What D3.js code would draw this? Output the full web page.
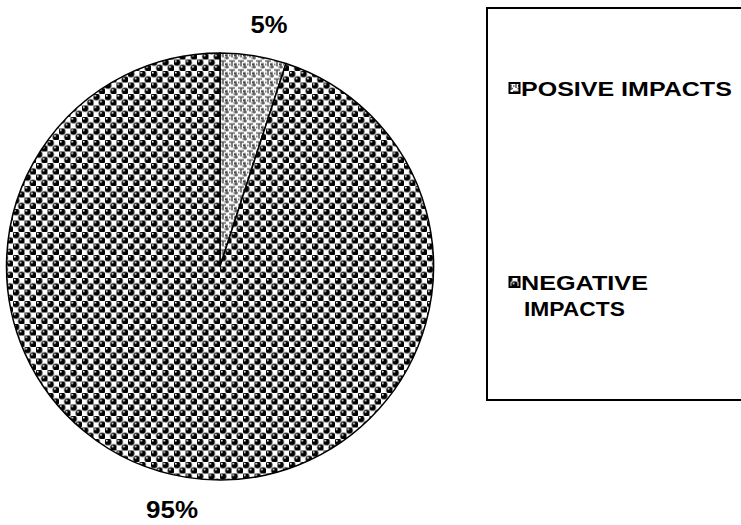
<!DOCTYPE html>
<html>
<head>
<meta charset="utf-8">
<script src="https://cdn.jsdelivr.net/npm/d3@7/dist/d3.min.js"></script>
<style>
  html, body { margin: 0; padding: 0; background: #fff; }
  svg { display: block; }
  text { font-family: "Liberation Sans", Arial, sans-serif; font-weight: bold; fill: #000; }
</style>
</head>
<body>
<svg id="chart" width="741" height="525"></svg>
<script>
// Survey result: share of respondents reporting each kind of impact
const categories = ["POSIVE IMPACTS", "NEGATIVE IMPACTS"];
const values = [5, 95];
const valueLabels = ["5%", "95%"];
const legendLines = [["POSIVE IMPACTS"], ["NEGATIVE", "IMPACTS"]];
const patternIds = ["weave", "spheres"];

const svg = d3.select("#chart");
const defs = svg.append("defs");

// Sphere pattern: dark balls with a small highlight, on a checkerboard lattice
const T = 11.5;
const sp = defs.append("pattern")
  .attr("id", "spheres")
  .attr("patternUnits", "userSpaceOnUse")
  .attr("width", T).attr("height", T);
sp.append("rect").attr("width", T).attr("height", T).attr("fill", "#fff");
[[T / 4, T / 4], [3 * T / 4, 3 * T / 4], [T + T / 4, 3 * T / 4 - T], [-T / 4, T / 4 + T]].forEach(([x, y]) => {
  sp.append("circle").attr("cx", x).attr("cy", y).attr("r", 3.7).attr("fill", "#777");
  sp.append("circle").attr("cx", x).attr("cy", y).attr("r", 3.2).attr("fill", "#000");
  sp.append("circle").attr("cx", x - 1.1).attr("cy", y - 1.2).attr("r", 0.9).attr("fill", "#fff");
});

// Weave pattern: grey maze-like strokes on white
const wv = defs.append("pattern")
  .attr("id", "weave")
  .attr("patternUnits", "userSpaceOnUse")
  .attr("width", 9).attr("height", 9);
wv.append("rect").attr("width", 9).attr("height", 9).attr("fill", "#fff");
wv.append("path")
  .attr("d", "M0,1.5H6M3,1.5V7M7,3.5V9M4.5,7.5H9M0,5H1.5")
  .attr("stroke", "#555").attr("stroke-width", 1.5).attr("fill", "none");
wv.append("rect").attr("x", 5).attr("y", 4).attr("width", 1.6).attr("height", 1.6).attr("fill", "#111");

// Pie
const cx = 220, cy = 266.5, radius = 213.5;
const pie = d3.pie().sort(null).value(d => d)(values);
const arc = d3.arc().innerRadius(0).outerRadius(radius);

const g = svg.append("g").attr("transform", `translate(${cx},${cy})`);
g.selectAll("path.slice")
  .data(pie)
  .join("path")
  .attr("class", "slice")
  .attr("d", arc)
  .attr("fill", (d, i) => `url(#${patternIds[i]})`)
  .attr("stroke", "#000")
  .attr("stroke-width", 1.5)
  .attr("stroke-linejoin", "round");

// Widen a text element horizontally so it spans the given width
function widen(sel, x, y, width, anchor) {
  sel.attr("x", 0).attr("y", 0).attr("text-anchor", anchor);
  const w = sel.node().getComputedTextLength();
  const s = width / w;
  sel.attr("transform", `translate(${x},${y}) scale(${s},1)`);
}

// Value labels outside the pie
const labelPos = [[269, 33], [172, 518]];
const labelWidths = [37, 52];
svg.selectAll("text.value")
  .data(valueLabels)
  .join("text")
  .attr("class", "value")
  .attr("font-size", 24)
  .text(d => d)
  .each(function (d, i) {
    widen(d3.select(this), labelPos[i][0], labelPos[i][1], labelWidths[i], "middle");
  });

// Legend
svg.append("rect")
  .attr("x", 487).attr("y", 8)
  .attr("width", 280).attr("height", 392)
  .attr("fill", "none").attr("stroke", "#000").attr("stroke-width", 2);

const legendY = [96, 290];
const lineWidths = [[211], [127, 101]];
const lg = svg.selectAll("g.legend")
  .data(categories)
  .join("g")
  .attr("class", "legend");

lg.append("rect")
  .attr("x", 509.5)
  .attr("y", (d, i) => legendY[i] - 13)
  .attr("width", 10).attr("height", 10)
  .attr("fill", (d, i) => `url(#${patternIds[i]})`)
  .attr("stroke", "#000").attr("stroke-width", 2);

lg.each(function (d, i) {
  const sel = d3.select(this);
  legendLines[i].forEach((line, j) => {
    const t = sel.append("text").attr("font-size", 20).text(line);
    widen(t, i === 1 && j === 1 ? 524 : 521, legendY[i] + j * 26, lineWidths[i][j], "start");
  });
});
</script>
</body>
</html>
